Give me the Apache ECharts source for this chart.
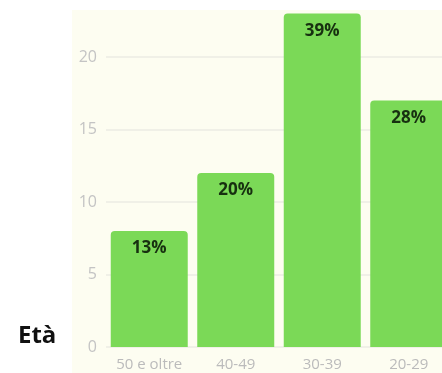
<!DOCTYPE html>
<html>
<head>
<meta charset="utf-8">
<script src="https://cdn.jsdelivr.net/npm/echarts@6/dist/echarts.min.js"></script>
<style>
  html, body { margin: 0; padding: 0; background: #fff; }
  #chart { width: 442px; height: 373px; }
</style>
</head>
<body>
<div id="chart"></div>
<script>
// fasce d'età, conteggi e percentuali
const fasce = ['50 e oltre', '40-49', '30-39', '20-29'];
const conteggi = [8, 12, 23, 17];
const percentuali = ['13%', '20%', '39%', '28%'];

const myChart = echarts.init(document.getElementById('chart'));

const option = {
    animation: false,
    backgroundColor: '#ffffff',
    title: {
        text: 'Età',
        left: 13,
        top: 319,
        textStyle: { fontFamily: 'Open Sans', fontWeight: 'bold', fontSize: 24, color: '#111' }
    },
    graphic: [{
        type: 'rect',
        z: -10,
        shape: { x: 72, y: 10, width: 370, height: 363 },
        style: { fill: '#fdfdf1' }
    }],
    // la griglia esce a destra: nel riferimento l'ultima barra è tagliata
    grid: { left: 106, width: 346, top: 57, height: 290, outerBoundsMode: 'none' },
    xAxis: {
        type: 'category',
        data: fasce,
        axisLine: { show: false },
        axisTick: { show: false },
        axisLabel: { interval: 0, color: '#bbbbbb', fontFamily: 'Open Sans', fontSize: 15, margin: 10 }
    },
    yAxis: {
        type: 'value',
        min: 0,
        max: 20,
        interval: 5,
        axisLine: { show: false },
        axisTick: { show: false },
        axisLabel: { color: '#c4c4c4', fontFamily: 'Open Sans', fontSize: 16, margin: 9 },
        splitLine: { lineStyle: { color: '#ebebe3', width: 1.5 } }
    },
    series: [{
        type: 'bar',
        data: conteggi,
        clip: false,
        barWidth: '89%',
        itemStyle: { color: '#7bd957', borderRadius: [4, 4, 0, 0] },
        label: {
            show: true,
            position: 'insideTop',
            distance: 9,
            formatter: p => percentuali[p.dataIndex],
            fontFamily: 'Open Sans',
            fontWeight: 'bold',
            fontSize: 17,
            color: '#173010'
        }
    }]
};

myChart.setOption(option);
</script>
</body>
</html>
